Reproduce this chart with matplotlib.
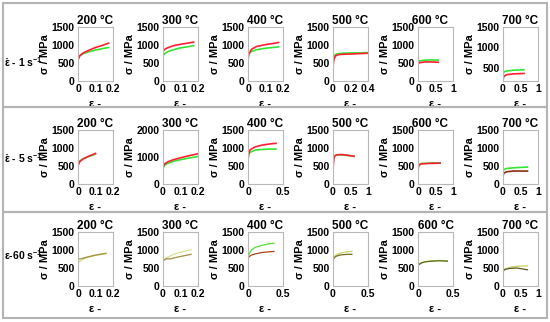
import matplotlib
matplotlib.use("Agg")
import matplotlib.pyplot as plt
from matplotlib import patches

plt.rcParams["font.family"] = ["Liberation Sans", "DejaVu Sans"]
plt.rcParams["font.weight"] = "bold"
plt.rcParams["mathtext.fontset"] = "custom"
plt.rcParams["mathtext.rm"] = "Liberation Sans:bold"
plt.rcParams["mathtext.it"] = "Liberation Sans:bold"
plt.rcParams["mathtext.bf"] = "Liberation Sans:bold"

temps = ["200 °C", "300 °C", "400 °C", "500 °C", "600 °C", "700 °C"]
rate_labels = [r"$\dot{\varepsilon}$ - 1 s$^{-1}$", r"$\dot{\varepsilon}$ - 5 s$^{-1}$", r"$\varepsilon$-60 s$^{-1}$"]

# x limits / ticks per panel, one list per row
xlims = [
    [0.2, 0.2, 0.2, 0.4, 1, 1],
    [0.2, 0.2, 0.5, 1, 1, 1],
    [0.2, 0.2, 0.5, 0.5, 0.5, 1],
]
xticks = [
    [[0, 0.1, 0.2], [0, 0.1, 0.2], [0, 0.1, 0.2], [0, 0.2, 0.4], [0, 0.5, 1], [0, 0.5, 1]],
    [[0, 0.1, 0.2], [0, 0.1, 0.2], [0, 0.5], [0, 0.5, 1], [0, 0.5, 1], [0, 0.5, 1]],
    [[0, 0.1, 0.2], [0, 0.1, 0.2], [0, 0.5], [0, 0.5], [0, 0.5], [0, 0.5, 1]],
]
ylims = [
    [(0, 1500)] * 5 + [(175, 1500)],
    [(0, 1500), (0, 2000), (0, 1500), (0, 1500), (0, 1500), (0, 1500)],
    [(0, 1500)] * 6,
]

# strain-rate 1 /s: (eps_a, sig_a, eps_b, sig_b) with a = red, b = green
curves_1 = [
    ([0, 0.01, 0.03, 0.06, 0.1, 0.14, 0.175], [580, 700, 780, 850, 930, 990, 1050],
     [0, 0.01, 0.03, 0.06, 0.1, 0.14, 0.175], [650, 700, 760, 810, 860, 900, 930]),
    ([0, 0.01, 0.03, 0.06, 0.1, 0.14, 0.175], [830, 880, 930, 980, 1020, 1050, 1080],
     [0, 0.01, 0.03, 0.06, 0.1, 0.14, 0.175], [700, 760, 820, 870, 920, 950, 980]),
    ([0, 0.005, 0.02, 0.05, 0.1, 0.14, 0.175], [600, 750, 880, 960, 1010, 1040, 1070],
     [0, 0.005, 0.02, 0.05, 0.1, 0.14, 0.175], [700, 760, 820, 870, 910, 930, 950]),
    ([0, 0.01, 0.03, 0.06, 0.1, 0.2, 0.3, 0.39], [400, 600, 700, 730, 740, 750, 760, 770],
     [0, 0.01, 0.03, 0.06, 0.1, 0.2, 0.3, 0.39], [600, 680, 740, 760, 770, 780, 780, 790]),
    ([0, 0.05, 0.2, 0.4, 0.58], [480, 510, 530, 530, 520],
     [0, 0.05, 0.2, 0.4, 0.58], [520, 560, 580, 585, 580]),
    ([0, 0.02, 0.1, 0.3, 0.6], [190, 280, 330, 350, 360],
     [0, 0.03, 0.1, 0.3, 0.6], [340, 400, 420, 440, 450]),
]
# strain-rate 5 /s
curves_5 = [
    ([0, 0.01, 0.03, 0.06, 0.1], [500, 620, 700, 770, 850],
     [0, 0.01, 0.03, 0.06, 0.1], [580, 640, 700, 760, 830]),
    ([0, 0.01, 0.03, 0.06, 0.1, 0.15, 0.2], [620, 750, 830, 900, 970, 1050, 1120],
     [0, 0.01, 0.03, 0.06, 0.1, 0.15, 0.2], [600, 700, 770, 840, 900, 960, 1020]),
    ([0, 0.01, 0.03, 0.1, 0.2, 0.3, 0.4], [650, 850, 950, 1030, 1080, 1110, 1130],
     [0, 0.01, 0.03, 0.1, 0.2, 0.3, 0.4], [700, 820, 880, 940, 960, 970, 970]),
    ([0, 0.01, 0.03, 0.08, 0.2, 0.35, 0.6], [350, 550, 750, 800, 820, 810, 770],
     [0, 0.01, 0.03, 0.08, 0.2, 0.35, 0.6], [550, 700, 770, 800, 810, 800, 770]),
    ([0, 0.02, 0.1, 0.3, 0.63], [350, 520, 560, 570, 580],
     [0, 0.02, 0.1, 0.3, 0.63], [450, 540, 570, 580, 590]),
    ([0, 0.02, 0.1, 0.3, 0.7], [200, 300, 340, 360, 360],
     [0, 0.02, 0.1, 0.3, 0.7], [330, 400, 430, 450, 470]),
]
# strain-rate 60 /s: a = darker curve, b = lighter curve
curves_60 = [
    ([0, 0.02, 0.05, 0.1, 0.15, 0.16], [750, 760, 800, 860, 900, 910],
     [0, 0.02, 0.05, 0.1, 0.15, 0.16], [650, 720, 790, 850, 890, 900]),
    ([0, 0.02, 0.04, 0.07, 0.1, 0.16], [700, 760, 750, 790, 820, 880],
     [0, 0.02, 0.05, 0.1, 0.16], [700, 780, 860, 940, 1010]),
    ([0, 0.02, 0.05, 0.1, 0.2, 0.3, 0.37], [780, 820, 860, 890, 930, 950, 960],
     [0, 0.02, 0.05, 0.1, 0.2, 0.3, 0.37], [800, 900, 1000, 1070, 1130, 1170, 1190]),
    ([0, 0.02, 0.05, 0.1, 0.2, 0.27], [720, 790, 830, 860, 880, 880],
     [0, 0.02, 0.05, 0.1, 0.2, 0.27], [750, 820, 870, 910, 950, 960]),
    ([0, 0.05, 0.1, 0.2, 0.3, 0.42], [580, 640, 670, 690, 700, 690],
     [0, 0.05, 0.1, 0.2, 0.3, 0.42], [600, 650, 680, 700, 710, 700]),
    ([0, 0.05, 0.2, 0.4, 0.7], [400, 460, 490, 500, 450],
     [0, 0.05, 0.2, 0.4, 0.7], [420, 470, 520, 550, 560]),
]
all_curves = [curves_1, curves_5, curves_60]

row_colors = [
    [("#ff1f2f", "#33e633")] * 6,
    [("#ff1f2f", "#33e633")] * 5 + [("#8a3010", "#33e633")],
    [("#a09040", "#d0dc80"), ("#a09040", "#d8e090"), ("#b0401a", "#55dd33"),
     ("#7a6a20", "#c8d860"), ("#5a6a20", "#b8d850"), ("#5a5a20", "#c8d060")],
]

W, H = 550, 322
fig = plt.figure(figsize=(W / 100, H / 100), dpi=100)

# row frames
for y0, y1 in [(3, 107), (107, 212), (212, 318)]:
    fig.add_artist(patches.Rectangle((3 / W, 1 - y1 / H), 544 / W, (y1 - y0) / H,
                                     transform=fig.transFigure, fill=False,
                                     edgecolor="#b4b4b4", lw=1.5))

col_left = [78, 163, 248, 333, 418, 503]
row_top = [27, 130, 232]
ax_w, ax_h = 35, 54
label_y = [62, 158, 255]

for r in range(3):
    fig.text(4 / W, 1 - label_y[r] / H, rate_labels[r], fontsize=7.5, fontweight="bold",
             ha="left", va="center")
    for c in range(6):
        ax = fig.add_axes([col_left[c] / W, 1 - (row_top[r] + ax_h) / H, ax_w / W, ax_h / H])
        ea, sa, eb, sb = all_curves[r][c]
        ca, cb = row_colors[r][c]
        lw = 1.2 if r < 2 else 0.9
        ax.plot(eb, sb, color=cb, lw=lw)
        ax.plot(ea, sa, color=ca, lw=lw)
        ax.set_xlim(0, xlims[r][c])
        ax.set_ylim(*ylims[r][c])
        ax.set_xticks(xticks[r][c])
        ax.set_xticklabels([f"{t:g}" for t in xticks[r][c]])
        if ylims[r][c][1] == 2000:
            ax.set_yticks([0, 1000, 2000])
        else:
            ax.set_yticks([t for t in [0, 500, 1000, 1500] if t >= ylims[r][c][0]])
        ax.tick_params(length=0, labelsize=7.5, pad=2.5)
        for lab in ax.get_xticklabels() + ax.get_yticklabels():
            lab.set_fontweight("bold")
        for s in ax.spines.values():
            s.set_color("#b8b8b8")
            s.set_linewidth(0.8)
        ttl_x = 0.35 if (c == 4 and r < 2) else 0.5
        ax.set_title(temps[c], fontsize=8.5, fontweight="bold", pad=2, x=ttl_x)
        ax.set_xlabel("ε -", fontsize=8, fontweight="bold", labelpad=3.5)
        ax.set_ylabel("σ / MPa", fontsize=8, fontweight="bold", labelpad=1)

fig.savefig("out.png", dpi=100)
